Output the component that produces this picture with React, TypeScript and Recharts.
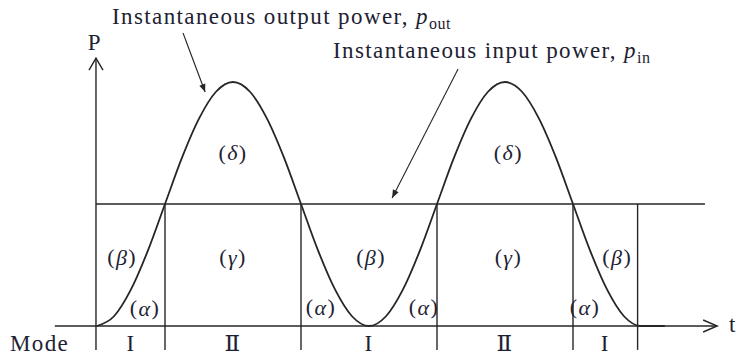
import React from 'react';
import {
  ComposedChart,
  Line,
  XAxis,
  YAxis,
  ReferenceLine,
  ReferenceDot,
} from 'recharts';

// time axis in eighths of a period, power normalised to the peak of p_out
const times = [
  0, 0.5, 1, 1.5, 2, 2.5, 3, 3.5, 4, 4.5, 5, 5.5, 6, 6.5, 7, 7.5, 8,
  8.5, 9, 9.5, 10, 10.5, 11, 11.5, 12, 12.5, 13, 13.5, 14, 14.5, 15, 15.5, 16, 16.7,
];
const pOut = [
  0, 0.04, 0.15, 0.31, 0.5, 0.69, 0.85, 0.96, 1, 0.96, 0.85, 0.69, 0.5, 0.31, 0.15, 0.04, 0,
  0.04, 0.15, 0.31, 0.5, 0.69, 0.85, 0.96, 1, 0.96, 0.85, 0.69, 0.5, 0.31, 0.15, 0.04, 0, 0,
];
const pIn = 0.5;

// mode boundaries and names along the time axis
const modeBounds = [0, 2, 6, 10, 14, 15.9];
const modeNames = ['I', 'Ⅱ', 'I', 'Ⅱ', 'I'];

// region labels: greek letter, time, power
const regionLabels: Array<[string, number, number]> = [
  ['δ', 4, 0.713],
  ['δ', 12.1, 0.713],
  ['β', 0.74, 0.283],
  ['γ', 4, 0.283],
  ['β', 8.06, 0.283],
  ['γ', 12.1, 0.283],
  ['β', 15.3, 0.283],
  ['α', 1.41, 0.074],
  ['α', 6.59, 0.078],
  ['α', 9.62, 0.078],
  ['α', 14.35, 0.078],
];

const data = times.map((t, i) => ({ t, p: pOut[i] }));

const INK = '#262626';
const TEXT = '#1d2233';
const FONT = "'Liberation Serif', 'DejaVu Serif', serif";

type Head = 'open' | 'filled' | 'none';

const arrow = (head: Head, len: number, half: number, width = 1.4) => (props: any) => {
  const { x1, y1, x2, y2 } = props;
  const a = Math.atan2(y2 - y1, x2 - x1);
  const bx = x2 - len * Math.cos(a);
  const by = y2 - len * Math.sin(a);
  const nx = -Math.sin(a) * half;
  const ny = Math.cos(a) * half;
  return (
    <g>
      <line x1={x1} y1={y1} x2={x2} y2={y2} stroke={INK} strokeWidth={width} />
      {head === 'open' && (
        <polyline
          points={`${bx + nx},${by + ny} ${x2},${y2} ${bx - nx},${by - ny}`}
          fill="none"
          stroke={INK}
          strokeWidth={width}
        />
      )}
      {head === 'filled' && (
        <polygon
          points={`${bx + nx},${by + ny} ${x2},${y2} ${bx - nx},${by - ny}`}
          fill={INK}
        />
      )}
    </g>
  );
};

const textAt =
  (content: React.ReactNode, anchor: 'start' | 'middle' = 'middle', central = true, size = 23) =>
  (props: any) => (
    <text
      x={props.cx}
      y={props.cy}
      textAnchor={anchor}
      dominantBaseline={central ? 'central' : 'auto'}
      fill={TEXT}
      style={{ fontFamily: FONT, fontSize: size, letterSpacing: 1.4 }}
    >
      {content}
    </text>
  );

const greek = (g: string) => (
  <>
    (<tspan fontStyle="italic">{g}</tspan>)
  </>
);

const powerName = (sub: string) => (
  <>
    <tspan fontStyle="italic">p</tspan>
    <tspan style={{ fontSize: 16, letterSpacing: 0.6 }} dy={5}>
      {sub}
    </tspan>
  </>
);

export default function App() {
  return (
    <div style={{ position: 'absolute', left: 0, top: 0, background: '#fff' }}>
      <ComposedChart
        width={736}
        height={358}
        data={data}
        margin={{ top: 57.6, right: 10, bottom: 7.6, left: 12 }}
      >
        <XAxis type="number" dataKey="t" domain={[-2.5, 18.5]} hide allowDataOverflow />
        <YAxis type="number" domain={[-0.1, 1.1]} hide allowDataOverflow />

        {/* time axis and power axis */}
        <ReferenceLine
          segment={[{ x: -1.24, y: 0 }, { x: 18.24, y: 0 }]}
          ifOverflow="visible"
          shape={arrow('open', 14, 6)}
        />
        <ReferenceLine
          segment={[{ x: -0.03, y: -0.098 }, { x: -0.03, y: 1.098 }]}
          ifOverflow="visible"
          shape={arrow('open', 12, 7)}
        />

        {/* average input power */}
        <ReferenceLine
          segment={[{ x: -0.03, y: pIn }, { x: 17.88, y: pIn }]}
          ifOverflow="visible"
          shape={arrow('none', 0, 0)}
        />

        {/* mode boundaries */}
        {modeBounds.slice(1).map((b) => (
          <ReferenceLine
            key={`b-${b}`}
            segment={[{ x: b, y: pIn }, { x: b, y: -0.098 }]}
            ifOverflow="visible"
            shape={arrow('none', 0, 0)}
          />
        ))}

        <Line
          type="monotone"
          dataKey="p"
          stroke={INK}
          strokeWidth={1.8}
          dot={false}
          isAnimationActive={false}
        />

        {/* pointer arrows */}
        <ReferenceLine
          segment={[{ x: 2.53, y: 1.201 }, { x: 3.18, y: 0.959 }]}
          ifOverflow="visible"
          shape={arrow('filled', 8, 3.2, 1.1)}
        />
        <ReferenceLine
          segment={[{ x: 10.62, y: 1.053 }, { x: 8.68, y: 0.525 }]}
          ifOverflow="visible"
          shape={arrow('filled', 8, 3.2, 1.1)}
        />

        <ReferenceDot
          x={0.44}
          y={1.238}
          r={0}
          ifOverflow="visible"
          shape={textAt(<>Instantaneous output power, {powerName('out')}</>, 'start', false)}
        />
        <ReferenceDot
          x={6.94}
          y={1.097}
          r={0}
          ifOverflow="visible"
          shape={textAt(<>Instantaneous input power, {powerName('in')}</>, 'start', false)}
        />
        <ReferenceDot x={-0.06} y={1.16} r={0} ifOverflow="visible" shape={textAt('P')} />
        <ReferenceDot x={18.7} y={0.005} r={0} ifOverflow="visible" shape={textAt('t')} />
        <ReferenceDot
          x={-2.56}
          y={-0.07}
          r={0}
          ifOverflow="visible"
          shape={textAt('Mode', 'start')}
        />

        {modeNames.map((m, i) => (
          <ReferenceDot
            key={`m-${i}`}
            x={(modeBounds[i] + modeBounds[i + 1]) / 2}
            y={-0.07}
            r={0}
            ifOverflow="visible"
            shape={textAt(m)}
          />
        ))}

        {regionLabels.map(([g, x, y], i) => (
          <ReferenceDot
            key={`r-${i}`}
            x={x}
            y={y}
            r={0}
            ifOverflow="visible"
            shape={textAt(greek(g), 'middle', true, 22)}
          />
        ))}
      </ComposedChart>
    </div>
  );
}
